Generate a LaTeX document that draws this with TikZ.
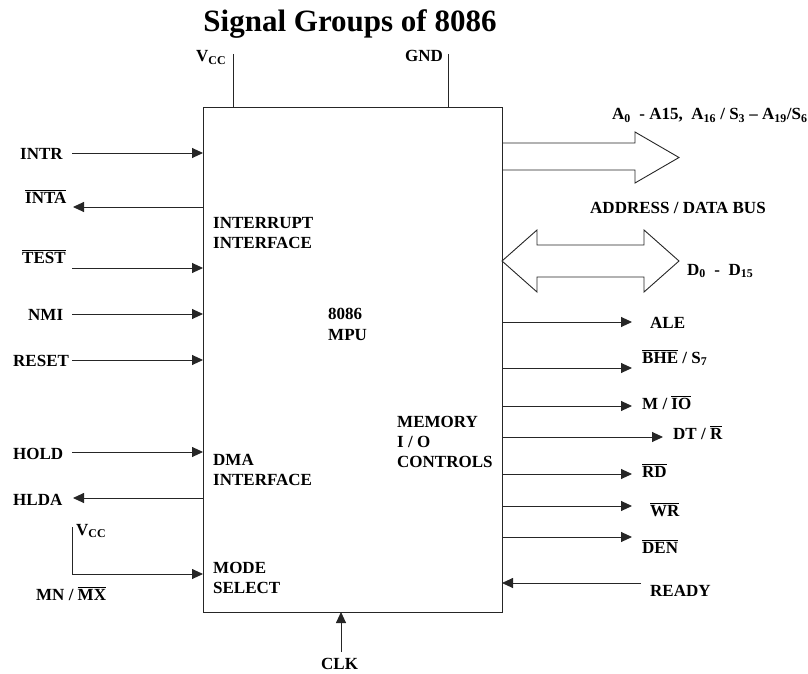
\documentclass[tikz,border=0pt]{standalone}
\usepackage{fontspec}
\setmainfont{Liberation Serif}
\usetikzlibrary{arrows.meta}
\newcommand{\ovl}[1]{$\overline{\mbox{#1}}$}
\newcommand{\sigfont}{\fontsize{17}{20}\selectfont\bfseries}
\begin{document}
\begin{tikzpicture}[x=1pt,y=-1pt,
  lbl/.style={anchor=base west,inner sep=0pt,font=\sigfont},
  wire/.style={line width=0.9pt,draw=black!85},
  sig/.style={wire,-{Triangle[length=11pt,width=10pt]}},
  bus/.style={line width=0.9pt,draw=black!85,line join=miter}]
\useasboundingbox (0,0) rectangle (808,674);

% title
\node[anchor=base,inner sep=0pt,font=\fontsize{31}{36}\selectfont\bfseries] (title) at (350,32) {Signal Groups of 8086};

% main box
\node[draw=black!85,line width=0.9pt,minimum width=299pt,minimum height=505pt,anchor=north west,inner sep=0pt,outer sep=0pt] (mpu) at (203,107) {};

% inside texts
\node[lbl] (int1) at (213,228) {INTERRUPT};
\node[lbl] (int2) at (213,248) {INTERFACE};
\node[lbl] (mpu1) at (328,319) {8086};
\node[lbl] (mpu2) at (328,340) {MPU};
\node[lbl] (mem1) at (397,427) {MEMORY};
\node[lbl] (mem2) at (397,447) {I / O};
\node[lbl] (mem3) at (397,467) {CONTROLS};
\node[lbl] (dma1) at (213,465) {DMA};
\node[lbl] (dma2) at (213,485) {INTERFACE};
\node[lbl] (mode1) at (213,573) {MODE};
\node[lbl] (mode2) at (213,593) {SELECT};

% power pins
\node[lbl] (vcc) at (196,62) {V\textsubscript{CC}};
\node[lbl] (gnd) at (405,62) {GND};
\coordinate (vccT) at (233,54);
\coordinate (gndT) at (448,54);
\draw[wire] (vccT) -- (vccT |- mpu.north);
\draw[wire] (gndT) -- (gndT |- mpu.north);

% left signals
\node[lbl] (intr) at (20,159) {INTR};
\node[lbl] (inta) at (25,203) {\ovl{INTA}};
\node[lbl] (test) at (22,263) {\ovl{TEST}};
\node[lbl] (nmi) at (28,320) {NMI};
\node[lbl] (reset) at (13,366) {RESET};
\node[lbl] (hold) at (13,459) {HOLD};
\node[lbl] (hlda) at (13,505) {HLDA};
\node[lbl] (vcc2) at (76,535) {V\textsubscript{CC}};
\node[lbl] (mnmx) at (36,600) {MN / \ovl{MX}};

\coordinate (intrS) at (72,153);
\coordinate (intaE) at (73,207);
\coordinate (testS) at (72,268);
\coordinate (nmiS) at (72,314);
\coordinate (resetS) at (72,360);
\coordinate (holdS) at (72,452);
\coordinate (hldaE) at (73,498);
\coordinate (vccL) at (72,527);
\coordinate (mnC) at (72,574);

\draw[sig] (intrS) -- (intrS -| mpu.west);
\draw[sig] (intaE -| mpu.west) -- (intaE);
\draw[sig] (testS) -- (testS -| mpu.west);
\draw[sig] (nmiS) -- (nmiS -| mpu.west);
\draw[sig] (resetS) -- (resetS -| mpu.west);
\draw[sig] (holdS) -- (holdS -| mpu.west);
\draw[sig] (hldaE -| mpu.west) -- (hldaE);
\draw[sig] (vccL) -- (mnC) -- (mnC -| mpu.west);

% bus arrows
\node[lbl] (addr) at (612,120) {A\textsubscript{0}\ \ - A15,\ \ A\textsubscript{16} / S\textsubscript{3} -- A\textsubscript{19}/S\textsubscript{6}};
\node[lbl] (adbus) at (590,213) {ADDRESS / DATA BUS};
\node[lbl] (data) at (687,275) {D\textsubscript{0}\ \ -\ \ D\textsubscript{15}};

\draw[bus] (mpu.east |- 0,143) -- (635,143) -- (635,132) -- (679,157.5) -- (635,183) -- (635,170) -- (mpu.east |- 0,170);
\draw[bus] (mpu.east |- 0,261) -- (537,230) -- (537,245) -- (644,245) -- (644,230) -- (679,261)
  -- (644,292) -- (644,277) -- (537,277) -- (537,292) -- cycle;

% right signals
\node[lbl] (ale) at (650,328) {ALE};
\node[lbl] (bhe) at (642,363) {\ovl{BHE} / S\textsubscript{7}};
\node[lbl] (mio) at (642,409) {M / \ovl{IO}};
\node[lbl] (dtr) at (673,439) {DT / \ovl{R}};
\node[lbl] (rd) at (642,477) {\ovl{RD}};
\node[lbl] (wr) at (650,516) {\ovl{WR}};
\node[lbl] (den) at (642,553) {\ovl{DEN}};
\node[lbl] (ready) at (650,596) {READY};

\coordinate (aleE) at (632,322);
\coordinate (bheE) at (632,368);
\coordinate (mioE) at (632,406);
\coordinate (dtrE) at (663,437);
\coordinate (rdE) at (632,474);
\coordinate (wrE) at (632,506);
\coordinate (denE) at (632,537);
\coordinate (readyS) at (641,583);

\draw[sig] (aleE -| mpu.east) -- (aleE);
\draw[sig] (bheE -| mpu.east) -- (bheE);
\draw[sig] (mioE -| mpu.east) -- (mioE);
\draw[sig] (dtrE -| mpu.east) -- (dtrE);
\draw[sig] (rdE -| mpu.east) -- (rdE);
\draw[sig] (wrE -| mpu.east) -- (wrE);
\draw[sig] (denE -| mpu.east) -- (denE);
\draw[sig] (readyS) -- (readyS -| mpu.east);

% clock
\node[lbl] (clk) at (321,669) {CLK};
\coordinate (clkS) at (341,652);
\draw[sig] (clkS) -- (clkS |- mpu.south);
\end{tikzpicture}
\end{document}
